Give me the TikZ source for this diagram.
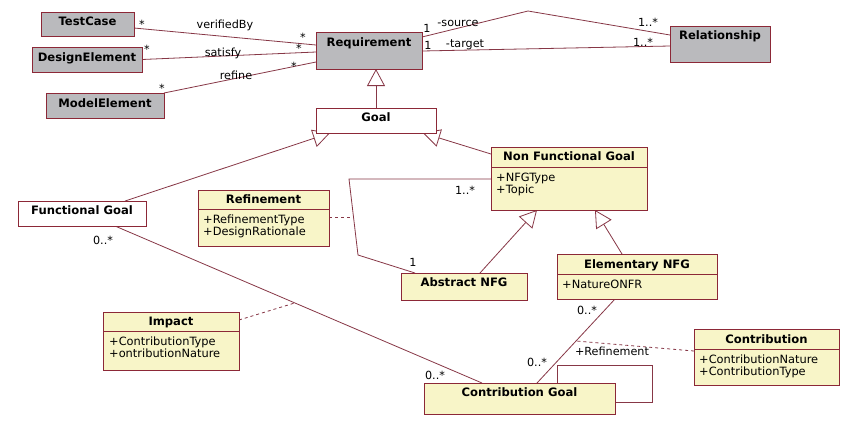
\documentclass[tikz,border=0pt]{standalone}
\usepackage{fontspec}
\setmainfont{DejaVu Sans}
\usetikzlibrary{arrows.meta,calc}
\pgfdeclarelayer{bg}
\pgfsetlayers{bg,main}
\definecolor{bord}{RGB}{140,40,55}
\definecolor{linec}{RGB}{135,55,70}
\definecolor{boxgray}{RGB}{186,186,189}
\definecolor{boxyel}{RGB}{248,245,200}
\newcommand\mkbox[6]{\node[#1, minimum width={(#5)-(#3)}, minimum height={(#6)-(#4)}] (#2) at (#3,#4) {};}
\begin{document}
\begin{tikzpicture}[x=1pt,y=-1pt,
  box/.style={draw=bord, line width=1pt, rectangle, anchor=north west, inner sep=0pt, outer sep=0pt},
  gbox/.style={box, fill=boxgray},
  wbox/.style={box, fill=white},
  ybox/.style={box, fill=boxyel},
  ttl/.style={font=\bfseries\fontsize{11.6}{13}\selectfont, anchor=base, inner sep=0pt},
  attr/.style={font=\fontsize{11.4}{13}\selectfont, anchor=base west, inner sep=0pt},
  lbl/.style={font=\fontsize{11.2}{13}\selectfont, inner sep=0pt, text=black},
  divl/.style={draw=bord, line width=1pt},
  conn/.style={draw=linec, line width=0.8pt},
  gen/.style={conn, -{Triangle[open, length=17pt, width=18pt]}},
  dep/.style={conn, dash pattern=on 3pt off 3pt}
]
\useasboundingbox (0,0) rectangle (854,424);
% boxes
\mkbox{gbox}{tc}{41}{12}{134}{36}
\node[ttl] (tcT) at (87.5,25.5) {TestCase};
\mkbox{gbox}{de}{32}{47}{142}{72}
\node[ttl] (deT) at (87,61.5) {DesignElement};
\mkbox{gbox}{me}{46}{93}{164}{118}
\node[ttl] (meT) at (105,107.5) {ModelElement};
\mkbox{gbox}{req}{316}{32}{422}{69}
\node[ttl] (reqT) at (369,46.5) {Requirement};
\mkbox{gbox}{rel}{670}{26}{770}{62}
\node[ttl] (relT) at (720,39.5) {Relationship};
\mkbox{wbox}{goal}{316}{108}{436}{133}
\node[ttl] (goalT) at (376,121.5) {Goal};
\mkbox{wbox}{fg}{18}{201}{146}{226}
\node[ttl] (fgT) at (82,214.5) {Functional Goal};
\mkbox{ybox}{ref}{198}{190}{329}{246}
\node[ttl] (refT) at (263.5,203.5) {Refinement};
\draw[divl] ($(ref.north west)+(0,19)$) -- ($(ref.north east)+(0,19)$);
\node[attr] (refA1) at (203,223) {+RefinementType};
\node[attr] (refA2) at (203,235) {+DesignRationale};
\mkbox{ybox}{nfg}{491}{147}{647}{210}
\node[ttl] (nfgT) at (569,160.5) {Non Functional Goal};
\draw[divl] ($(nfg.north west)+(0,20)$) -- ($(nfg.north east)+(0,20)$);
\node[attr] (nfgA1) at (496,181) {+NFGType};
\node[attr] (nfgA2) at (496,193) {+Topic};
\mkbox{ybox}{abs}{401}{273}{527}{300}
\node[ttl] (absT) at (464,286.5) {Abstract NFG};
\mkbox{ybox}{elem}{557}{254}{717}{299}
\node[ttl] (elemT) at (637,268.5) {Elementary NFG};
\draw[divl] ($(elem.north west)+(0,20)$) -- ($(elem.north east)+(0,20)$);
\node[attr] (elemA1) at (562,288) {+NatureONFR};
\mkbox{ybox}{imp}{103}{312}{239}{370}
\node[ttl] (impT) at (171,325.5) {Impact};
\draw[divl] ($(imp.north west)+(0,19)$) -- ($(imp.north east)+(0,19)$);
\node[attr] (impA1) at (109,345) {+ContributionType};
\node[attr] (impA2) at (109,357) {+ontributionNature};
\mkbox{ybox}{cg}{424}{383}{615}{414}
\node[ttl] (cgT) at (519.5,396.5) {Contribution Goal};
\mkbox{ybox}{con}{694}{329}{839}{385}
\node[ttl] (conT) at (766.5,343.5) {Contribution};
\draw[divl] ($(con.north west)+(0,20)$) -- ($(con.north east)+(0,20)$);
\node[attr] (conA1) at (699,363) {+ContributionNature};
\node[attr] (conA2) at (699,375) {+ContributionType};
% helper coordinates
\coordinate (srcbend) at (528,11);
\coordinate (rb1) at (349,179);
\coordinate (rb2) at (358,255);
\coordinate (lp1) at (652,365);
\coordinate (lp2) at (652,402);
% connectors
\begin{pgfonlayer}{bg}
\fill[white] (0,0) rectangle (854,424);
\draw[conn] ($(tc.north east)+(0,16)$) -- ($(req.north west)+(0,13)$);
\draw[conn] (de.east) -- ($(req.north west)+(0,20)$);
\draw[conn] (me.north east) -- ($(req.north west)+(0,30)$);
\draw[conn] ($(req.north east)+(0,5)$) -- (srcbend) -- ($(rel.north west)+(0,9)$);
\draw[conn] ($(req.north east)+(0,19)$) -- ($(rel.north west)+(0,20)$);
\draw[gen] (goal.north) -- (goal.north |- req.south);
\draw[gen] ($(fg.north)+(43,0)$) -- ($(goal.south west)+(14,0)$);
\draw[gen] ($(nfg.north west)+(0,7)$) -- ($(goal.south east)+(-13,0)$);
\draw[gen] ($(abs.north)+(16,0)$) -- ($(nfg.south west)+(46,0)$);
\draw[gen] ($(elem.north)+(-15,0)$) -- ($(nfg.south west)+(104,0)$);
\draw[conn] ($(nfg.north west)+(0,32)$) -- (rb1) -- coordinate[pos=0.5] (rmid) (rb2) -- ($(abs.north west)+(14,0)$);
\draw[dep] ($(ref.north east)+(0,27)$) -- (rmid);
\draw[conn] ($(fg.south)+(33,0)$) -- coordinate[pos=0.49] (fmid) ($(cg.north)+(-37.5,0)$);
\draw[dep] ($(imp.north east)+(0,8)$) -- (fmid);
\draw[conn] ($(elem.south)+(-22,0)$) -- coordinate[pos=0.5] (emid) ($(cg.north)+(17.5,0)$);
\draw[dep] ($(con.north west)+(0,22)$) -- (emid);
\draw[conn] ($(cg.north west)+(133,0)$) |- (lp1) -- (lp2) -- ($(cg.north east)+(0,19)$);
\end{pgfonlayer}
% labels
\node[lbl] (l1) at (142,24) {*};
\node[lbl] (l2) at (225,25) {verifiedBy};
\node[lbl] (l3) at (303,37) {*};
\node[lbl] (l4) at (147,49) {*};
\node[lbl] (l5) at (223,53) {satisfy};
\node[lbl] (l6) at (299,48) {*};
\node[lbl] (l7) at (162,88) {*};
\node[lbl] (l8) at (236,75) {refine};
\node[lbl] (l9) at (294,66) {*};
\node[lbl] (l10) at (427,28) {1};
\node[lbl] (l11) at (458,23) {-source};
\node[lbl] (l12) at (648,22) {1..*};
\node[lbl] (l13) at (428,45) {1};
\node[lbl] (l14) at (465,45) {-target};
\node[lbl] (l15) at (643,42) {1..*};
\node[lbl] (l16) at (465,190) {1..*};
\node[lbl] (l17) at (413,262) {1};
\node[lbl] (l18) at (103,240) {0..*};
\node[lbl] (l19) at (435,375) {0..*};
\node[lbl] (l20) at (587,310) {0..*};
\node[lbl] (l21) at (537,362) {0..*};
\node[lbl] (l22) at (612,351) {+Refinement};
\end{tikzpicture}
\end{document}
